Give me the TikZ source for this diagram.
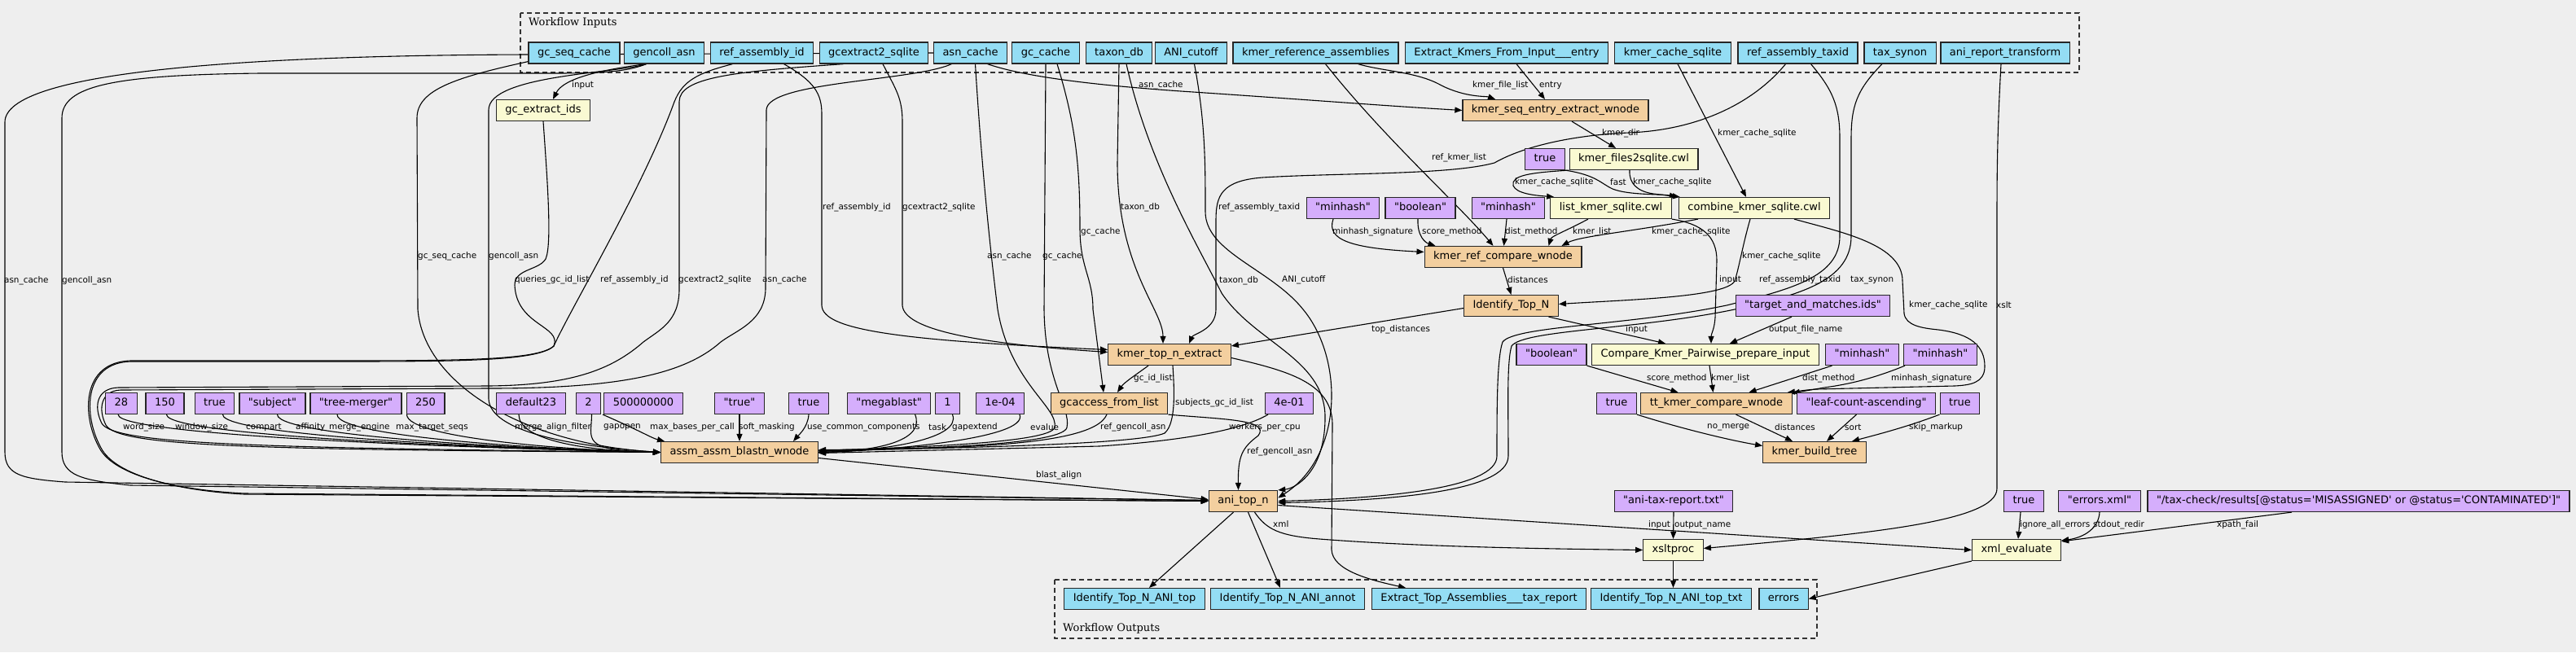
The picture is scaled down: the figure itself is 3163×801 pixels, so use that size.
\documentclass[tikz,border=0pt]{standalone}
\usepackage{fontspec}
\newfontfamily\nodefont{DejaVu Sans}
\newfontfamily\titlefont{DejaVu Serif}
\usetikzlibrary{arrows.meta,backgrounds}

\definecolor{bgc}{HTML}{EEEEEE}
\definecolor{inblue}{HTML}{94DDF4}
\definecolor{parampurple}{HTML}{D5AEFC}
\definecolor{steporange}{HTML}{F3CF9F}
\definecolor{toolyellow}{HTML}{FAFAD2}

\newcommand{\qq}[1]{\textquotedbl#1\textquotedbl}

\tikzset{
  box/.style={draw=black!85, line width=1.2pt, minimum height=26pt, inner xsep=11pt, inner ysep=0pt,
    text height=9.6pt, text depth=2.8pt, font=\nodefont\fontsize{13}{15}\selectfont},
  inp/.style={box, fill=inblue},
  param/.style={box, fill=parampurple},
  stepnode/.style={box, fill=steporange},
  tool/.style={box, fill=toolyellow},
  wire/.style={line width=1.1pt, -{Triangle[length=9pt,width=7pt]}},
  lab/.style={anchor=west, inner sep=0pt, font=\nodefont\fontsize{10.4}{12}\selectfont},
  cluster/.style={line width=1.4pt, dash pattern=on 6pt off 4pt, draw=black!80},
  ctitle/.style={anchor=west, inner sep=0pt, font=\titlefont\fontsize{13}{15}\selectfont}
}

\begin{document}
\begin{tikzpicture}[x=1pt,y=-1pt]
\useasboundingbox (0,0) rectangle (3163,801);

% workflow inputs
\node[inp] (in_gcseq) at (705,65) {gc\_seq\_cache};
\node[inp] (in_gencoll) at (815.5,65) {gencoll\_asn};
\node[inp] (in_refasm) at (935.5,65) {ref\_assembly\_id};
\node[inp] (in_gcext) at (1073,65) {gcextract2\_sqlite};
\node[inp] (in_asn) at (1191.5,65) {asn\_cache};
\node[inp] (in_gccache) at (1284,65) {gc\_cache};
\node[inp] (in_taxondb) at (1374,65) {taxon\_db};
\node[inp] (in_anicut) at (1462.5,65) {ANI\_cutoff};
\node[inp] (in_kmerref) at (1615.5,65) {kmer\_reference\_assemblies};
\node[inp] (in_entry) at (1850,65) {Extract\_Kmers\_From\_Input\_\_\_entry};
\node[inp] (in_kmercache) at (2054,65) {kmer\_cache\_sqlite};
\node[inp] (in_reftaxid) at (2207.5,65) {ref\_assembly\_taxid};
\node[inp] (in_taxsynon) at (2333,65) {tax\_synon};
\node[inp] (in_anixslt) at (2462,65) {ani\_report\_transform};
\node[ctitle] (t_in) at (649,28) {Workflow Inputs};

% kmer part
\node[tool] (gcextract) at (667,135.5) {gc\_extract\_ids};
\node[stepnode] (seqextract) at (1910,135.5) {kmer\_seq\_entry\_extract\_wnode};
\node[param] (tfast) at (1897,195.5) {true};
\node[tool] (files2sqlite) at (2006,195.5) {kmer\_files2sqlite.cwl};
\node[param] (mh1) at (1649,255.5) {\qq{minhash}};
\node[param] (bool1) at (1744,255.5) {\qq{boolean}};
\node[param] (mh2) at (1852,255.5) {\qq{minhash}};
\node[tool] (listkmer) at (1978,255.5) {list\_kmer\_sqlite.cwl};
\node[tool] (combine) at (2154,255.5) {combine\_kmer\_sqlite.cwl};
\node[stepnode] (refcompare) at (1845.5,315.5) {kmer\_ref\_compare\_wnode};
\node[stepnode] (topn) at (1855.5,375.5) {Identify\_Top\_N};
\node[param] (targetids) at (2226,375.5) {\qq{target\_and\_matches.ids}};
\node[stepnode] (topnextract) at (1436,435.5) {kmer\_top\_n\_extract};
\node[param] (boolA) at (1905,435.5) {\qq{boolean}};
\node[tool] (prepare) at (2094,435.5) {Compare\_Kmer\_Pairwise\_prepare\_input};
\node[param] (mhA) at (2286.5,435.5) {\qq{minhash}};
\node[param] (mhB) at (2382.5,435.5) {\qq{minhash}};

% blastn parameters
\node[param] (p28) at (149,495.5) {28};
\node[param] (p150) at (202.5,495.5) {150};
\node[param] (ptrueA) at (263.5,495.5) {true};
\node[param] (psubject) at (334.5,495.5) {\qq{subject}};
\node[param] (ptree) at (437,495.5) {\qq{tree-merger}};
\node[param] (p250) at (522.5,495.5) {250};
\node[param] (pdefault) at (652,495.5) {default23};
\node[param] (p2) at (722.5,495.5) {2};
\node[param] (p5e8) at (790,495.5) {500000000};
\node[param] (ptruestr) at (908,495.5) {\qq{true}};
\node[param] (ptrueB) at (993,495.5) {true};
\node[param] (pmega) at (1091.6,495.5) {\qq{megablast}};
\node[param] (p1) at (1163.5,495.5) {1};
\node[param] (pevalue) at (1228,495.5) {1e-04};
\node[stepnode] (gcaccess) at (1362,495.5) {gcaccess\_from\_list};
\node[param] (pworkers) at (1583,495.5) {4e-01};
\node[param] (nomerge) at (1985,495.5) {true};
\node[stepnode] (ttcompare) at (2107.5,495.5) {tt\_kmer\_compare\_wnode};
\node[param] (leafcount) at (2291.5,495.5) {\qq{leaf-count-ascending}};
\node[param] (skipmk) at (2406.5,495.5) {true};
\node[stepnode] (blastn) at (908,555.5) {assm\_assm\_blastn\_wnode};
\node[stepnode] (buildtree) at (2228,555.5) {kmer\_build\_tree};

% ani and report
\node[stepnode] (anitopn) at (1526.5,615.5) {ani\_top\_n};
\node[param] (anitax) at (2055,615.5) {\qq{ani-tax-report.txt}};
\node[param] (xtrue) at (2485,615.5) {true};
\node[param] (xerrors) at (2578,615.5) {\qq{errors.xml}};
\node[param] (xpath) at (2896,615.5) {\qq{/tax-check/results[@status=\textquotesingle MISASSIGNED\textquotesingle{} or @status=\textquotesingle CONTAMINATED\textquotesingle]}};
\node[tool] (xsltproc) at (2054.5,675.5) {xsltproc};
\node[tool] (xmleval) at (2476,675.5) {xml\_evaluate};

% workflow outputs
\node[inp] (outtop) at (1393,735.5) {Identify\_Top\_N\_ANI\_top};
\node[inp] (outannot) at (1581,735.5) {Identify\_Top\_N\_ANI\_annot};
\node[inp] (outtax) at (1816,735.5) {Extract\_Top\_Assemblies\_\_\_tax\_report};
\node[inp] (outtxt) at (2052,735.5) {Identify\_Top\_N\_ANI\_top\_txt};
\node[inp] (outerrors) at (2190,735.5) {errors};
\node[ctitle] (t_out) at (1305,772) {Workflow Outputs};

\begin{scope}[on background layer]
\fill[bgc] (0,0) rectangle (3163,801);
\draw[cluster] (639,16) rectangle (2553,89);
\draw[cluster] (1295,712) rectangle (2231,784);

% long ones round the left
\draw[wire] (in_asn.west) -- (650,67) .. controls (300,68) and (6,88) .. (6,150) -- (6,555) .. controls (6,584) and (28,588) .. (80,592) -- ([yshift=1pt]anitopn.west);
\draw[wire] ([xshift=-22pt]in_gencoll.south) .. controls (770,88) and (740,90) .. (680,90) -- (320,90) .. controls (140,92) and (76,105) .. (76,145) -- (76,555) .. controls (76,584) and (100,590) .. (160,596) -- ([yshift=1pt]anitopn.west);
\draw[wire] ([yshift=3pt]in_gcseq.south west) .. controls (560,95) and (512,110) .. (512,145) -- (513,380) .. controls (520,470) and (640,545) .. (blastn.west);
\draw[wire] ([xshift=-22pt]in_gencoll.south) .. controls (760,90) and (600,92) .. (600,135) -- (600,490) .. controls (602,530) and (700,548) .. (blastn.west);
\draw[wire] ([xshift=-22pt]in_gencoll.south) .. controls (720,88) and (690,100) .. ([xshift=12pt]gcextract.north);
\draw[wire] (gcextract.south) .. controls (672,220) and (678,300) .. (670,318) .. controls (662,332) and (632,330) .. (632,350) .. controls (634,400) and (690,400) .. (680,425) .. controls (660,443) and (560,443) .. (400,443) -- (160,443) .. controls (100,445) and (100,510) .. (122,550) .. controls (140,585) and (220,602) .. (300,606) -- (anitopn.west);
\draw[wire] ([xshift=-36pt]in_refasm.south) .. controls (855,90) and (838,100) .. (828,125) .. controls (790,230) and (700,380) .. (680,425) .. controls (660,444) and (560,444) .. (400,444) -- (160,444) .. controls (102,446) and (102,510) .. (124,550) .. controls (142,585) and (222,603) .. (300,607) -- (anitopn.west);
\draw[wire] ([xshift=-37pt]in_gcext.south) .. controls (900,88) and (834,95) .. (834,125) -- (834,355) .. controls (834,395) and (810,405) .. (790,420) .. controls (750,455) and (700,473) .. (600,474) -- (145,476) .. controls (118,477) and (115,500) .. (125,520) .. controls (140,545) and (300,550) .. (blastn.west);
\draw[wire] ([xshift=-23pt]in_asn.south) .. controls (1120,100) and (942,100) .. (941,135) -- (940,355) .. controls (939,395) and (905,405) .. (885,420) .. controls (840,460) and (760,477) .. (600,477) -- (148,479) .. controls (124,480) and (120,502) .. (130,522) .. controls (145,548) and (300,552) .. (blastn.west);

% inputs into kmer_top_n_extract, gcaccess, blastn
\draw[wire] ([xshift=27pt]in_refasm.south) .. controls (1000,100) and (1009,115) .. (1009,140) -- (1009,375) .. controls (1010,405) and (1100,418) .. ([yshift=6pt]topnextract.west);
\draw[wire] ([xshift=11pt]in_gcext.south) .. controls (1100,110) and (1108,120) .. (1108,150) -- (1108,375) .. controls (1110,405) and (1200,422) .. ([yshift=3pt]topnextract.west);
\draw[wire] ([xshift=6pt]in_asn.south) .. controls (1205,200) and (1215,300) .. (1225,380) .. controls (1240,470) and (1300,500) .. (1295,525) .. controls (1290,545) and (1100,550) .. ([yshift=2pt]blastn.east);
\draw[wire] (in_gccache.south) -- (1282,380) .. controls (1283,470) and (1315,500) .. (1310,525) .. controls (1305,548) and (1100,552) .. ([yshift=3pt]blastn.east);
\draw[wire] ([xshift=14pt]in_gccache.south) .. controls (1320,150) and (1326,200) .. (1326,280) .. controls (1326,330) and (1342,340) .. (1342,380) -- ([xshift=-7pt]gcaccess.north);
\draw[wire] (in_taxondb.south) -- (1372,200) .. controls (1372,330) and (1428,380) .. ([xshift=-8pt]topnextract.north);
\draw[wire] ([xshift=9pt]in_taxondb.south) .. controls (1410,200) and (1470,300) .. (1500,360) .. controls (1540,420) and (1625,440) .. (1627,510) .. controls (1628,580) and (1590,600) .. (anitopn.north east);
\draw[wire] ([xshift=4pt]in_anicut.south) .. controls (1480,150) and (1480,200) .. (1480,260) .. controls (1480,310) and (1560,330) .. (1600,380) .. controls (1650,440) and (1650,560) .. ([yshift=4pt]anitopn.east);
\draw[wire] ([xshift=-15pt]in_reftaxid.south) .. controls (2150,130) and (2080,160) .. (2000,163) .. controls (1930,166) and (1870,180) .. (1835,200) .. controls (1780,215) and (1650,212) .. (1550,218) .. controls (1500,222) and (1493,240) .. (1493,270) -- (1493,380) .. controls (1493,405) and (1465,410) .. ([xshift=24pt]topnextract.north);
\draw[wire] ([xshift=16pt]in_reftaxid.south) .. controls (2250,110) and (2259,130) .. (2259,170) -- (2259,290) .. controls (2259,340) and (2200,355) .. (2120,375) .. controls (2000,400) and (1860,400) .. (1845,420) .. controls (1838,440) and (1838,500) .. (1838,560) .. controls (1838,600) and (1700,612) .. (anitopn.east);
\draw[wire] ([xshift=-22pt]in_taxsynon.south) .. controls (2280,110) and (2273,130) .. (2273,170) -- (2273,290) .. controls (2273,345) and (2210,362) .. (2130,380) .. controls (2010,405) and (1870,405) .. (1856,425) .. controls (1850,445) and (1852,500) .. (1852,560) .. controls (1852,605) and (1700,615) .. ([yshift=-2pt]anitopn.east);
\draw[wire] ([xshift=-5pt]in_anixslt.south) .. controls (2453,150) and (2452,200) .. (2452,260) -- (2452,600) .. controls (2452,640) and (2300,655) .. ([yshift=2pt]xsltproc.east);

% kmer steps
\draw[wire] ([xshift=21pt]in_asn.south) .. controls (1260,95) and (1350,105) .. (1450,112) .. controls (1600,122) and (1700,130) .. (seqextract.west);
\draw[wire] ([xshift=52pt]in_kmerref.south) .. controls (1700,88) and (1740,88) .. (1770,105) .. controls (1800,120) and (1825,118) .. ([xshift=-74pt]seqextract.north);
\draw[wire] ([xshift=12pt]in_entry.south) -- ([xshift=-13pt]seqextract.north);
\draw[wire] ([xshift=20pt]seqextract.south) -- ([xshift=-22pt]files2sqlite.north);
\draw[wire] ([xshift=6pt]in_kmercache.south) -- ([xshift=-10pt]combine.north);
\draw[wire] ([xshift=12pt]in_kmerref.south) .. controls (1700,170) and (1790,250) .. ([xshift=-12pt]refcompare.north);
\draw[wire] (tfast.south east) .. controls (1960,215) and (1965,225) .. (1980,232) .. controls (2000,240) and (2040,238) .. ([xshift=-2pt]combine.north west);
\draw[wire] (files2sqlite.south west) .. controls (1880,212) and (1855,215) .. (1858,228) .. controls (1862,238) and (1885,240) .. ([xshift=5pt]listkmer.north west);
\draw[wire] ([xshift=-5pt]files2sqlite.south) .. controls (2000,225) and (2010,235) .. (2030,238) -- ([xshift=2pt]combine.north west);
\draw[wire] ([xshift=-12pt]mh1.south) .. controls (1628,295) and (1660,305) .. ([yshift=6pt]refcompare.west);
\draw[wire] ([xshift=-3pt]bool1.south) .. controls (1740,290) and (1750,298) .. ([xshift=-83pt]refcompare.north);
\draw[wire] ([xshift=-2pt]mh2.south) -- ([xshift=1pt]refcompare.north);
\draw[wire] ([xshift=-28pt]listkmer.south) .. controls (1920,285) and (1905,290) .. ([xshift=56pt]refcompare.north);
\draw[wire] ([xshift=-69pt]combine.south) .. controls (2000,285) and (1940,290) .. ([xshift=72pt]refcompare.north);
\draw[wire] (refcompare.south) -- (topn.north);
\draw[wire] ([xshift=-5pt]combine.south) .. controls (2140,300) and (2135,330) .. (2130,345) .. controls (2120,365) and (2000,368) .. ([yshift=2pt]topn.east);
\draw[wire] (listkmer.south east) .. controls (2090,275) and (2108,290) .. (2108,320) -- (2106,390) .. controls (2105,405) and (2101,410) .. ([xshift=7pt]prepare.north);
\draw[wire] ([yshift=-3pt]topn.west) -- ([yshift=-3pt]topnextract.north east);
\draw[wire] ([xshift=46pt]topn.south) -- ([xshift=-49pt]prepare.north);
\draw[wire] ([xshift=-26pt]targetids.south) -- ([xshift=30pt]prepare.north);
\draw[wire] ([xshift=49pt]combine.south) .. controls (2260,285) and (2336,300) .. (2336,345) -- (2338,385) .. controls (2340,400) and (2360,403) .. (2380,405) .. controls (2420,410) and (2437,425) .. (2437,450) .. controls (2437,470) and (2420,473) .. (2400,474) -- (2230,478) .. controls (2215,479) and (2205,481) .. ([xshift=-6pt]ttcompare.north east);
\draw[wire] (boolA.south east) -- ([xshift=-47pt]ttcompare.north);
\draw[wire] ([xshift=5pt]prepare.south) -- ([xshift=-4pt]ttcompare.north);
\draw[wire] ([xshift=-37pt]mhA.south) -- ([xshift=40pt]ttcompare.north);
\draw[wire] ([xshift=2pt]mhB.south west) .. controls (2300,465) and (2270,472) .. (2240,476) -- ([yshift=-1pt]ttcompare.north east);
\draw[wire] (nomerge.south east) .. controls (2060,525) and (2120,540) .. ([yshift=8pt]buildtree.west);
\draw[wire] ([xshift=24pt]ttcompare.south) -- ([xshift=-27pt]buildtree.north);
\draw[wire] ([xshift=-12pt]leafcount.south) -- ([xshift=15pt]buildtree.north);
\draw[wire] (skipmk.south west) .. controls (2340,525) and (2300,535) .. ([xshift=46pt]buildtree.north);

% blastn inputs
\foreach \src/\dx in {p28/-4, p150/2, ptrueA/10, psubject/6, ptree/-23, p250/-23, pdefault/-15, p2/4}
  \draw[wire] ([xshift=\dx pt]\src.south) .. controls +(0,30) and +(-100,-2) .. (blastn.west);
\foreach \src/\dx in {pmega/32, p1/6, pevalue/24}
  \draw[wire] ([xshift=\dx pt]\src.south) .. controls +(12,30) and +(80,-2) .. (blastn.east);
\draw[wire] ([xshift=-50pt]p5e8.south) .. controls (788,530) and (800,538) .. ([xshift=-92pt]blastn.north);
\draw[wire] (ptruestr.south) -- (blastn.north);
\draw[wire] (ptrueB.south) .. controls (992,525) and (980,535) .. ([xshift=66pt]blastn.north);
\draw[wire] ([xshift=-3pt]gcaccess.south) .. controls (1350,530) and (1300,545) .. (1150,550) -- ([yshift=1pt]blastn.east);
\draw[wire] (gcaccess.south east) .. controls (1500,515) and (1560,515) .. (1545,535) .. controls (1525,550) and (1520,560) .. ([xshift=-6pt]anitopn.north);
\draw[wire] ([xshift=4pt]topnextract.south) .. controls (1442,480) and (1444,520) .. (1430,532) .. controls (1400,545) and (1200,550) .. ([yshift=2pt]blastn.east);
\draw[wire] ([xshift=-26pt]topnextract.south) .. controls (1395,460) and (1380,470) .. ([xshift=10pt]gcaccess.north);
\draw[wire] ([yshift=-4pt]topnextract.east) .. controls (1580,455) and (1635,470) .. (1636,520) -- (1635,675) .. controls (1636,700) and (1680,712) .. ([xshift=-90pt]outtax.north);
\draw[wire] ([xshift=-26pt]pworkers.south) .. controls (1530,525) and (1470,540) .. (1350,548) -- ([yshift=-1pt]blastn.east);
\draw[wire] ([yshift=-7pt]blastn.east) -- ([yshift=2pt]anitopn.west);

% ani_top_n and reports
\draw[wire] ([xshift=-12pt]anitopn.south) -- ([xshift=18pt]outtop.north);
\draw[wire] ([xshift=6pt]anitopn.south) -- ([xshift=-9pt]outannot.north);
\draw[wire] ([xshift=14pt]anitopn.south) .. controls (1555,650) and (1570,658) .. (1620,662) .. controls (1750,672) and (1900,674) .. (xsltproc.west);
\draw[wire] ([yshift=-5pt]anitopn.east) -- (xmleval.west);
\draw[wire] (anitax.south) -- (xsltproc.north);
\draw[wire] (xsltproc.south) -- (xsltproc.south |- outtxt.north);
\draw[wire] (xmleval.south west) -- (outerrors.east);
\draw[wire] ([xshift=-4pt]xtrue.south) -- ([xshift=2pt]xmleval.north);
\draw[wire] (xerrors.south) .. controls (2577,648) and (2560,660) .. ([yshift=-2pt]xmleval.north east);
\draw[wire] ([xshift=-82pt]xpath.south) -- ([yshift=-3pt]xmleval.north east);
\end{scope}

% edge labels
\node[lab] (l1) at (702,105) {input};
\node[lab] (l2) at (1398,105) {asn\_cache};
\node[lab] (l3) at (1808,105) {kmer\_file\_list};
\node[lab] (l4) at (1890,105) {entry};
\node[lab] (l5) at (1967,164) {kmer\_dir};
\node[lab] (l6) at (2109,164) {kmer\_cache\_sqlite};
\node[lab] (l7) at (1758,194) {ref\_kmer\_list};
\node[lab] (l8) at (1860,224) {kmer\_cache\_sqlite};
\node[lab] (l9) at (1977,224) {fast};
\node[lab] (l10) at (2005,224) {kmer\_cache\_sqlite};
\node[lab] (l11) at (1010,255) {ref\_assembly\_id};
\node[lab] (l12) at (1108,255) {gcextract2\_sqlite};
\node[lab] (l13) at (1376,255) {taxon\_db};
\node[lab] (l14) at (1496,255) {ref\_assembly\_taxid};
\node[lab] (l15) at (1636,285) {minhash\_signature};
\node[lab] (l16) at (1746,285) {score\_method};
\node[lab] (l17) at (1848,285) {dist\_method};
\node[lab] (l18) at (1931,285) {kmer\_list};
\node[lab] (l19) at (2028,285) {kmer\_cache\_sqlite};
\node[lab] (l20) at (1327,285) {gc\_cache};
\node[lab] (l21) at (513,315) {gc\_seq\_cache};
\node[lab] (l22) at (600,315) {gencoll\_asn};
\node[lab] (l23) at (1212,315) {asn\_cache};
\node[lab] (l24) at (1280,315) {gc\_cache};
\node[lab] (l25) at (2139,315) {kmer\_cache\_sqlite};
\node[lab] (l26) at (5,345) {asn\_cache};
\node[lab] (l27) at (76,345) {gencoll\_asn};
\node[lab] (l28) at (632,344) {queries\_gc\_id\_list};
\node[lab] (l29) at (737,344) {ref\_assembly\_id};
\node[lab] (l30) at (833,344) {gcextract2\_sqlite};
\node[lab] (l31) at (936,344) {asn\_cache};
\node[lab] (l32) at (1497,345) {taxon\_db};
\node[lab] (l33) at (1574,344) {ANI\_cutoff};
\node[lab] (l34) at (1851,344) {distances};
\node[lab] (l35) at (2111,344) {input};
\node[lab] (l36) at (2160,344) {ref\_assembly\_taxid};
\node[lab] (l37) at (2272,344) {tax\_synon};
\node[lab] (l38) at (2344,375) {kmer\_cache\_sqlite};
\node[lab] (l39) at (2451,375) {xslt};
\node[lab] (l40) at (1684,405) {top\_distances};
\node[lab] (l41) at (1996,405) {input};
\node[lab] (l42) at (2172,405) {output\_file\_name};
\node[lab] (l43) at (1392,465) {gc\_id\_list};
\node[lab] (l44) at (2022,465) {score\_method};
\node[lab] (l45) at (2101,465) {kmer\_list};
\node[lab] (l46) at (2213,465) {dist\_method};
\node[lab] (l47) at (2322,465) {minhash\_signature};
\node[lab] (l48) at (151,525) {word\_size};
\node[lab] (l49) at (215,525) {window\_size};
\node[lab] (l50) at (302,525) {compart};
\node[lab] (l51) at (363,525) {affinity};
\node[lab] (l52) at (404,525) {merge\_engine};
\node[lab] (l53) at (486,525) {max\_target\_seqs};
\node[lab] (l54) at (632,525) {merge\_align\_filter};
\node[lab] (l55) at (741,525) {gapopen};
\node[lab] (l56) at (798,525) {max\_bases\_per\_call};
\node[lab] (l57) at (907,525) {soft\_masking};
\node[lab] (l58) at (991,525) {use\_common\_components};
\node[lab] (l59) at (1140,525) {task};
\node[lab] (l60) at (1169,525) {gapextend};
\node[lab] (l61) at (1265,525) {evalue};
\node[lab] (l62) at (1351,525) {ref\_gencoll\_asn};
\node[lab] (l63) at (1443,495) {subjects\_gc\_id\_list};
\node[lab] (l64) at (1509,525) {workers\_per\_cpu};
\node[lab] (l65) at (2096,525) {no\_merge};
\node[lab] (l66) at (2179,525) {distances};
\node[lab] (l67) at (2265,525) {sort};
\node[lab] (l68) at (2344,525) {skip\_markup};
\node[lab] (l69) at (1531,555) {ref\_gencoll\_asn};
\node[lab] (l70) at (1272,584) {blast\_align};
\node[lab] (l71) at (1563,644) {xml};
\node[lab] (l72) at (2024,645) {input};
\node[lab] (l73) at (2056,645) {output\_name};
\node[lab] (l74) at (2480,645) {ignore\_all\_errors};
\node[lab] (l75) at (2570,645) {stdout\_redir};
\node[lab] (l76) at (2722,645) {xpath\_fail};
\end{tikzpicture}
\end{document}
